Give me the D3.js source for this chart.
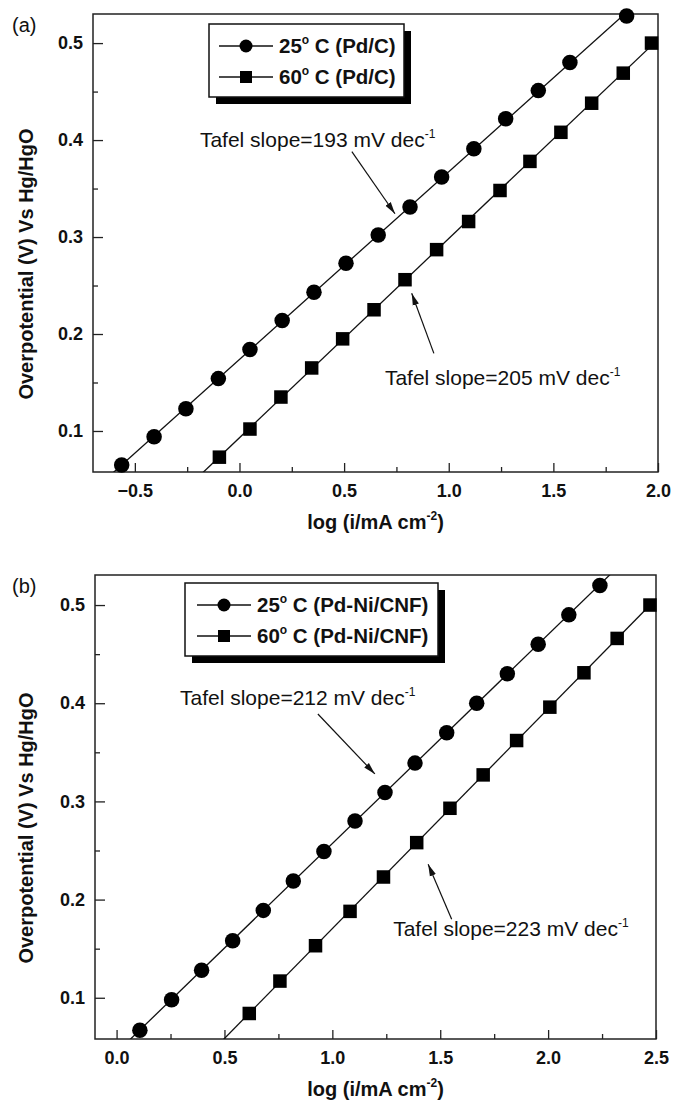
<!DOCTYPE html>
<html>
<head>
<meta charset="utf-8">
<script src="https://cdn.jsdelivr.net/npm/d3@7"></script>
<style>
  body { margin: 0; background: #fff; }
  svg { display: block; font-family: "Liberation Sans", Arial, Helvetica, sans-serif; }
  .axis text { font-size: 18px; font-weight: bold; fill: #111; }
  .axis line { stroke: #222; stroke-width: 1.3; }
  .axis path { display: none; }
</style>
</head>
<body>
<svg id="chart" width="674" height="1102"></svg>
<script>
// panel (a): Pd/C
const pdc25X = [-0.563, -0.408, -0.256, -0.101, 0.050, 0.204, 0.356, 0.509, 0.663, 0.815, 0.966, 1.120, 1.272, 1.428, 1.579, 1.850];
const pdc25Y = [0.065, 0.094, 0.123, 0.154, 0.184, 0.214, 0.243, 0.273, 0.302, 0.331, 0.362, 0.391, 0.422, 0.451, 0.480, 0.528];
const pdc60X = [-0.096, 0.050, 0.198, 0.345, 0.493, 0.643, 0.791, 0.942, 1.095, 1.245, 1.388, 1.536, 1.683, 1.834, 1.969];
const pdc60Y = [0.073, 0.102, 0.135, 0.165, 0.195, 0.225, 0.256, 0.287, 0.316, 0.348, 0.378, 0.408, 0.438, 0.469, 0.500];

// panel (b): Pd-Ni/CNF
const pdni25X = [0.108, 0.255, 0.394, 0.538, 0.680, 0.819, 0.961, 1.105, 1.244, 1.383, 1.530, 1.669, 1.811, 1.954, 2.096, 2.240];
const pdni25Y = [0.067, 0.098, 0.128, 0.158, 0.189, 0.219, 0.249, 0.280, 0.309, 0.339, 0.370, 0.400, 0.430, 0.460, 0.490, 0.520];
const pdni60X = [0.615, 0.757, 0.922, 1.082, 1.237, 1.391, 1.545, 1.699, 1.854, 2.008, 2.166, 2.320, 2.472];
const pdni60Y = [0.084, 0.117, 0.153, 0.188, 0.223, 0.258, 0.293, 0.327, 0.362, 0.396, 0.431, 0.466, 0.500];

const xTicksA = [-0.5, 0, 0.5, 1.0, 1.5, 2.0];
const xMinorA = [-0.25, 0.25, 0.75, 1.25, 1.75];
const xTicksB = [0, 0.5, 1.0, 1.5, 2.0, 2.5];
const xMinorB = [0.25, 0.75, 1.25, 1.75, 2.25];
const yTicks = [0.1, 0.2, 0.3, 0.4, 0.5];
const yMinor = [0.15, 0.25, 0.35, 0.45];

const legendA = ["(Pd/C)", "(Pd/C)"];
const legendB = ["(Pd-Ni/CNF)", "(Pd-Ni/CNF)"];
const legendTemps = ["25", "60"];

// slope notes: text anchor, arrow tail and arrow tip, in data units
const notesA = [
  { text: "Tafel slope=193 mV dec", at: [-0.189, 0.393], from: [0.537, 0.388], to: [0.743, 0.324] },
  { text: "Tafel slope=205 mV dec", at: [0.695, 0.147], from: [0.929, 0.180], to: [0.823, 0.242] },
];
const notesB = [
  { text: "Tafel slope=212 mV dec", at: [0.294, 0.398], from: [0.933, 0.389], to: [1.197, 0.328] },
  { text: "Tafel slope=223 mV dec", at: [1.282, 0.163], from: [1.553, 0.180], to: [1.444, 0.236] },
];

const panels = [
  {
    id: "a", tag: "(a)", left: 93, right: 658, top: 14, bottom: 472,
    xDomain: [-0.7, 2.0], yDomain: [0.0577, 0.53],
    xTicks: xTicksA, xMinor: xMinorA,
    series: [
      { xs: pdc25X, ys: pdc25Y, shape: "circle" },
      { xs: pdc60X, ys: pdc60Y, shape: "square" },
    ],
    legend: { left: 209, top: 24, width: 195, height: 73, labels: legendA, lineX: 219, textX: 279 },
    notes: notesA,
  },
  {
    id: "b", tag: "(b)", left: 95, right: 656, top: 575, bottom: 1039,
    xDomain: [-0.1, 2.5], yDomain: [0.058, 0.5306],
    xTicks: xTicksB, xMinor: xMinorB,
    series: [
      { xs: pdni25X, ys: pdni25Y, shape: "circle" },
      { xs: pdni60X, ys: pdni60Y, shape: "square" },
    ],
    legend: { left: 185, top: 583, width: 253, height: 73, labels: legendB, lineX: 197, textX: 257 },
    notes: notesB,
  },
];

const svg = d3.select("#chart");
const defs = svg.append("defs");
defs
  .append("marker")
  .attr("id", "arrow")
  .attr("viewBox", "0 0 12 8")
  .attr("refX", 12)
  .attr("refY", 4)
  .attr("markerWidth", 12)
  .attr("markerHeight", 8)
  .attr("markerUnits", "userSpaceOnUse")
  .attr("orient", "auto")
  .append("path")
  .attr("d", "M0,0.8 L12,4 L0,7.2 Z")
  .attr("fill", "#111");

function drawMarker(g, shape, x, y, size) {
  if (shape === "circle") {
    g.append("circle").attr("cx", x).attr("cy", y).attr("r", size / 2).attr("fill", "#000");
  } else {
    g.append("rect")
      .attr("x", x - size / 2)
      .attr("y", y - size / 2)
      .attr("width", size)
      .attr("height", size)
      .attr("fill", "#000");
  }
}

function fitLine(xs, ys) {
  const mx = d3.mean(xs);
  const my = d3.mean(ys);
  let sxy = 0;
  let sxx = 0;
  for (let i = 0; i < xs.length; i += 1) {
    sxy += (xs[i] - mx) * (ys[i] - my);
    sxx += (xs[i] - mx) * (xs[i] - mx);
  }
  const slope = sxy / sxx;
  return { slope, intercept: my - slope * mx };
}

panels.forEach((p) => {
  const x = d3.scaleLinear().domain(p.xDomain).range([p.left, p.right]);
  const y = d3.scaleLinear().domain(p.yDomain).range([p.bottom, p.top]);
  const g = svg.append("g");

  defs
    .append("clipPath")
    .attr("id", `clip-${p.id}`)
    .append("rect")
    .attr("x", p.left)
    .attr("y", p.top)
    .attr("width", p.right - p.left)
    .attr("height", p.bottom - p.top);

  // axes, ticks pointing inward
  g.append("g")
    .attr("class", "axis")
    .attr("transform", `translate(0,${p.bottom})`)
    .call(d3.axisBottom(x).tickValues(p.xTicks).tickSize(-9).tickPadding(12).tickFormat(d3.format(".1f")));
  g.append("g")
    .attr("class", "axis")
    .attr("transform", `translate(0,${p.bottom})`)
    .call(d3.axisBottom(x).tickValues(p.xMinor).tickSize(-5).tickFormat(""));
  g.append("g")
    .attr("class", "axis")
    .attr("transform", `translate(${p.left},0)`)
    .call(d3.axisLeft(y).tickValues(yTicks).tickSize(-10).tickPadding(10).tickFormat(d3.format(".1f")));
  g.append("g")
    .attr("class", "axis")
    .attr("transform", `translate(${p.left},0)`)
    .call(d3.axisLeft(y).tickValues(yMinor).tickSize(-5).tickFormat(""));

  g.append("rect")
    .attr("x", p.left)
    .attr("y", p.top)
    .attr("width", p.right - p.left)
    .attr("height", p.bottom - p.top)
    .attr("fill", "none")
    .attr("stroke", "#222")
    .attr("stroke-width", 1.5);

  // fitted lines, then markers
  const lineG = g.append("g").attr("clip-path", `url(#clip-${p.id})`);
  const markG = g.append("g");
  p.series.forEach((s) => {
    const fit = fitLine(s.xs, s.ys);
    const ends = p.xDomain.map((v) => [x(v), y(fit.slope * v + fit.intercept)]);
    lineG.append("path")
      .attr("d", d3.line()(ends))
      .attr("stroke", "#111")
      .attr("stroke-width", 1.3)
      .attr("fill", "none");
    s.xs.forEach((v, i) => {
      drawMarker(markG, s.shape, x(v), y(s.ys[i]), s.shape === "circle" ? 15.5 : 13.5);
    });
  });

  p.notes.forEach((n) => {
    const t = g.append("text")
      .attr("x", x(n.at[0]))
      .attr("y", y(n.at[1]))
      .attr("font-size", 21)
      .attr("fill", "#111");
    t.append("tspan").text(n.text);
    t.append("tspan").attr("dy", -9).attr("font-size", 12).text("-1");
    g.append("line")
      .attr("x1", x(n.from[0]))
      .attr("y1", y(n.from[1]))
      .attr("x2", x(n.to[0]))
      .attr("y2", y(n.to[1]))
      .attr("stroke", "#111")
      .attr("stroke-width", 1.2)
      .attr("marker-end", "url(#arrow)");
  });

  // legend box with shadow
  const L = p.legend;
  g.append("rect")
    .attr("x", L.left + 7)
    .attr("y", L.top + 7)
    .attr("width", L.width)
    .attr("height", L.height)
    .attr("fill", "#000");
  g.append("rect")
    .attr("x", L.left)
    .attr("y", L.top)
    .attr("width", L.width)
    .attr("height", L.height)
    .attr("fill", "#fff")
    .attr("stroke", "#111")
    .attr("stroke-width", 1.5);
  p.series.forEach((s, i) => {
    const ry = L.top + 22 + i * 31;
    g.append("line")
      .attr("x1", L.lineX)
      .attr("x2", L.lineX + 54)
      .attr("y1", ry)
      .attr("y2", ry)
      .attr("stroke", "#111")
      .attr("stroke-width", 1.3);
    drawMarker(g, s.shape, L.lineX + 27, ry, s.shape === "circle" ? 13 : 12);
    const t = g.append("text")
      .attr("x", L.textX)
      .attr("y", ry + 7)
      .attr("font-size", 20.5)
      .attr("font-weight", "bold")
      .attr("fill", "#111");
    t.append("tspan").text(legendTemps[i]);
    t.append("tspan").attr("dy", -9).attr("font-size", 12).text("o");
    t.append("tspan").attr("dy", 9).attr("font-size", 20.5).text(` C ${L.labels[i]}`);
  });

  const xt = g.append("text")
    .attr("x", (p.left + p.right) / 2)
    .attr("y", p.bottom + 57)
    .attr("text-anchor", "middle")
    .attr("font-size", 20)
    .attr("font-weight", "bold")
    .attr("fill", "#111");
  xt.append("tspan").text("log (i/mA cm");
  xt.append("tspan").attr("dy", -9).attr("font-size", 12).text("-2");
  xt.append("tspan").attr("dy", 9).attr("font-size", 20).text(")");

  g.append("text")
    .attr("transform", "rotate(-90)")
    .attr("x", -((p.top + p.bottom) / 2 + 21))
    .attr("y", 33)
    .attr("text-anchor", "middle")
    .attr("font-size", 20)
    .attr("font-weight", "bold")
    .attr("fill", "#111")
    .text("Overpotential (V) Vs Hg/HgO");

  g.append("text")
    .attr("x", 12)
    .attr("y", p.top + 18)
    .attr("font-size", 20)
    .attr("fill", "#111")
    .text(p.tag);
});
</script>
</body>
</html>
